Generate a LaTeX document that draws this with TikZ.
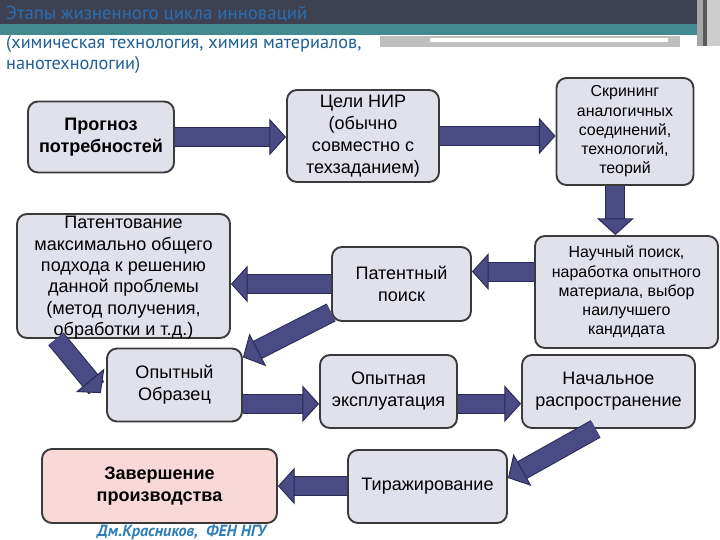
\documentclass[tikz,border=0pt]{standalone}
\usepackage{fontspec}
\setmainfont{Liberation Sans}
\newfontfamily\headfont{PT Sans}
\usetikzlibrary{arrows.meta}

\definecolor{boxfill}{HTML}{E1E1EC}
\definecolor{boxedge}{HTML}{3A3A3A}
\definecolor{pinkfill}{HTML}{F9D8D8}
\definecolor{arrowfill}{HTML}{4A4A84}
\definecolor{arrowedge}{HTML}{2A2A55}
\definecolor{bandtop}{HTML}{3E4151}
\definecolor{bandteal}{HTML}{428A8F}
\definecolor{headblue}{HTML}{2B6DB2}
\definecolor{subblue}{HTML}{1F5E96}
\definecolor{footblue}{HTML}{2E7FB8}

\def\px{0.03cm}

\tikzset{
	stage/.style={draw=boxedge, line width=1.6pt, fill=boxfill, rounded corners=0.3cm, align=center, inner sep=1pt,
		font=\fontsize{15.4}{18.8}\selectfont},
	boldstage/.style={stage, font=\fontsize{15.4}{18.8}\selectfont\bfseries},
	smallstage/.style={stage, font=\fontsize{13.6}{16.4}\selectfont},
	fatarrow/.style={draw=arrowfill, line width=0.54cm,
		-{Triangle[width=1.1cm, length=0.5cm, line width=0.8pt, color=arrowedge, fill=arrowfill]},
		preaction={draw=arrowedge, line width=0.6cm, arrows=-, shorten >=0.45cm}}
}

\begin{document}
\begin{tikzpicture}[x=0.03cm, y=-0.03cm]
			%%%%% START %%%%%
			\useasboundingbox (0,0) rectangle (720,540);
			
			% header bands
			\fill[bandtop] (0,0) rectangle (697,24);
			\fill[bandteal] (0,24) rectangle (697,35);
			\fill[black!35] (697,0) rectangle (703,46);
			\fill[black!65] (703,0) rectangle (707,46);
			\fill[black!20] (707,0) rectangle (720,46);
			\fill[black!25] (380,36) rectangle (680,47);
			\fill[white] (430,38.5) rectangle (668,42.5);
			
			\node[anchor=base west, inner sep=0, font=\headfont\fontsize{16}{20}\selectfont, text=headblue] (title) at (6,20) {Этапы жизненного цикла инноваций};
			\node[anchor=base west, inner sep=0, align=left, font=\headfont\fontsize{15.6}{18.5}\selectfont, text=subblue] (subtitle) at (6,70) {(химическая технология, химия материалов,\\нанотехнологии)};
			
			% stages
			\node[boldstage, minimum width=146*\px, minimum height=71*\px] (prognoz) at (101,137) {Прогноз\\потребностей};
			\node[stage, minimum width=152*\px, minimum height=92*\px] (celi) at (363,136) {Цели НИР\\(обычно\\совместно с\\техзаданием)};
			\node[smallstage, minimum width=137*\px, minimum height=107*\px] (skrining) at (625,131.5) {Скрининг\\аналогичных\\соединений,\\технологий,\\теорий};
			
			\node[stage, font=\fontsize{15.4}{18.3}\selectfont, text depth=0pt, minimum width=213*\px, minimum height=124*\px, inner sep=0pt] (patent) at (123.5,276) {Патентование\\максимально общего\\подхода к решению\\данной проблемы\\(метод получения,\\обработки и т.д.)};
			\node[stage, minimum width=139*\px, minimum height=74*\px] (patpoisk) at (401.5,284) {Патентный\\поиск};
			\node[smallstage, minimum width=183*\px, minimum height=112*\px] (nauchny) at (626.5,292) {Научный поиск,\\наработка опытного\\материала, выбор\\наилучшего\\кандидата};
			
			\node[stage, minimum width=135*\px, minimum height=73*\px] (obrazec) at (174.5,385) {Опытный\\Образец};
			\node[stage, minimum width=137*\px, minimum height=73*\px] (ekspl) at (388.5,391.5) {Опытная\\эксплуатация};
			\node[stage, minimum width=173*\px, minimum height=73*\px] (nachalo) at (608.5,391.5) {Начальное\\распространение};
			
			\node[boldstage, fill=pinkfill, minimum width=235*\px, minimum height=74*\px] (finish) at (159.5,486) {Завершение\\производства};
			\node[stage, minimum width=159*\px, minimum height=73*\px] (tirazh) at (427.5,486.5) {Тиражирование};
			
			% arrows
			\draw[fatarrow] (prognoz.east) -- (prognoz.east -| celi.west);
			\draw[fatarrow] (celi.east) -- (celi.east -| skrining.west);
			\draw[fatarrow] (skrining.260) -- (skrining.260 |- nauchny.north);
			\draw[fatarrow] (nauchny.west |- patpoisk.10) -- (patpoisk.10);
			\draw[fatarrow] (patpoisk.west) -- (patpoisk.west -| patent.east);
			\draw[fatarrow] (patpoisk.202) -- (obrazec.22);
			\draw[fatarrow, shorten >=0.25cm] (patent.223) -- (obrazec.192);
			\draw[fatarrow] (obrazec.east |- ekspl.190) -- (ekspl.190);
			\draw[fatarrow] (ekspl.-10) -- (ekspl.-10 -| nachalo.west);
			\draw[fatarrow] (nachalo.251) -- (tirazh.6);
			\draw[fatarrow] (tirazh.west |- finish.east) -- (finish.east);
			
			\node[anchor=base west, inner sep=0, font=\headfont\bfseries\itshape\fontsize{13.8}{15}\selectfont, text=footblue] (author) at (97,536) {Дм.Красников,\ \ ФЕН НГУ};
			
			%%%%% END %%%%%
\end{tikzpicture}
\end{document}
